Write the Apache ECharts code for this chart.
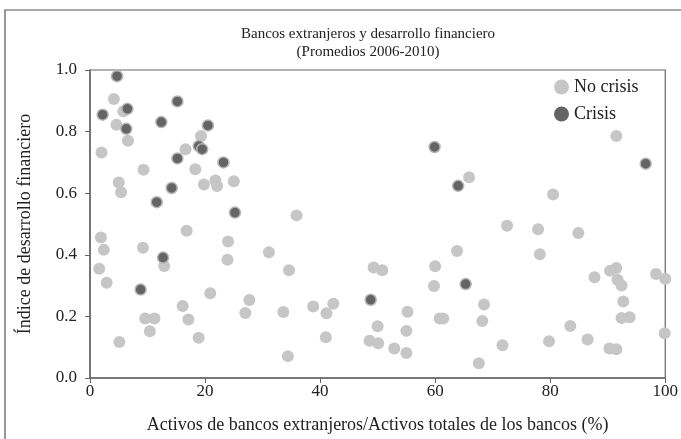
<!DOCTYPE html>
<html>
<head>
<meta charset="utf-8">
<script src="https://cdn.jsdelivr.net/npm/echarts@6/dist/echarts.min.js"></script>
<style>
  html, body { margin: 0; padding: 0; background: #fff; }
  #chart { width: 681px; height: 439px; }
</style>
</head>
<body>
<div id="chart"></div>
<script>
// Data
const noCrisisX = [4.15, 5.8, 4.6, 19.3, 6.6, 2.0, 16.6, 18.3, 9.3, 5.0, 5.4, 19.8, 21.8, 22.1, 25.0,
  16.8, 1.9, 2.4, 1.6, 2.9, 9.2, 12.9, 24.0, 23.9, 31.1, 20.9, 27.7, 27.0, 16.1, 9.6, 11.2, 17.1,
  10.4, 18.9, 5.1, 35.9, 34.6, 33.6, 34.4, 38.8, 41.1, 42.3, 41.0, 49.3, 50.8, 50.0, 48.6, 50.1,
  52.9, 55.0, 55.2, 55.0, 60.0, 59.8, 63.8, 60.8, 61.4, 65.9, 72.5, 77.9, 84.9, 78.2, 90.4, 91.5,
  87.7, 91.7, 92.4, 98.4, 100, 92.7, 92.4, 93.8, 99.9, 68.5, 68.2, 67.6, 71.7, 79.8, 83.5, 86.5,
  90.3, 91.5, 91.5, 80.5]
const noCrisisY = [0.906, 0.866, 0.822, 0.786, 0.770, 0.732, 0.743, 0.678, 0.676, 0.635, 0.603, 0.628, 0.641, 0.623, 0.639,
  0.478, 0.456, 0.416, 0.355, 0.309, 0.423, 0.364, 0.443, 0.384, 0.408, 0.275, 0.253, 0.211, 0.234, 0.193, 0.193, 0.190,
  0.152, 0.131, 0.117, 0.528, 0.350, 0.214, 0.071, 0.232, 0.210, 0.241, 0.132, 0.359, 0.350, 0.168, 0.121, 0.113,
  0.096, 0.081, 0.215, 0.153, 0.363, 0.299, 0.412, 0.193, 0.193, 0.652, 0.494, 0.483, 0.471, 0.402, 0.348, 0.357,
  0.327, 0.319, 0.300, 0.338, 0.322, 0.248, 0.195, 0.197, 0.145, 0.239, 0.185, 0.048, 0.106, 0.119, 0.169, 0.125,
  0.096, 0.093, 0.786, 0.596]

const crisisX = [4.7, 2.2, 6.5, 15.2, 6.3, 12.4, 20.5, 18.9, 19.5, 15.2, 23.2, 14.2, 11.6, 25.2, 12.7,
  8.8, 59.9, 64.0, 48.8, 65.3, 96.6]
const crisisY = [0.980, 0.855, 0.874, 0.898, 0.809, 0.831, 0.820, 0.753, 0.743, 0.713, 0.700, 0.617, 0.571, 0.537, 0.391,
  0.287, 0.750, 0.624, 0.254, 0.305, 0.696]

const xTicks = [0, 20, 40, 60, 80, 100]
const yTicks = ['0.0', '0.2', '0.4', '0.6', '0.8', '1.0']

const serif = '"Liberation Serif", "DejaVu Serif", serif'
const axisColor = '#666'
const textColor = '#222'

const chart = echarts.init(document.getElementById('chart'))

chart.setOption({
  animation: false,
  textStyle: { fontFamily: serif },
  title: {
    text: 'Bancos extranjeros y desarrollo financiero\n(Promedios 2006-2010)',
    left: 363,
    top: 20,
    textAlign: 'center',
    textStyle: { fontFamily: serif, fontSize: 15, fontWeight: 'normal', color: textColor, lineHeight: 18 }
  },
  legend: {
    orient: 'vertical',
    left: 549,
    top: 73,
    itemWidth: 15,
    itemHeight: 15,
    itemGap: 9,
    icon: 'circle',
    textStyle: { fontFamily: serif, fontSize: 18, color: textColor },
    itemStyle: { borderWidth: 0 },
    data: ['No crisis', 'Crisis']
  },
  graphic: [{
    type: 'rect',
    shape: { x: 5, y: 10, width: 720, height: 480 },
    style: { fill: 'none', stroke: '#555', lineWidth: 1.2 },
    silent: true
  }],
  grid: {
    left: 90, right: 13, top: 70, bottom: 58,
    show: true, borderColor: axisColor, borderWidth: 1.2
  },
  xAxis: {
    type: 'value',
    min: 0, max: 100, interval: 20,
    name: 'Activos de bancos extranjeros/Activos totales de los bancos (%)',
    nameLocation: 'middle',
    nameGap: 38,
    nameTextStyle: { fontFamily: serif, fontSize: 18, color: textColor },
    axisLine: { show: true, lineStyle: { color: axisColor, width: 1.5 } },
    axisTick: { show: true, length: 5, lineStyle: { color: axisColor } },
    axisLabel: {
      fontFamily: serif, fontSize: 17, color: textColor, margin: 5,
      formatter: v => xTicks.includes(v) ? String(v) : ''
    },
    splitLine: { show: false }
  },
  yAxis: {
    type: 'value',
    min: 0, max: 1, interval: 0.2,
    name: 'Índice de desarrollo financiero',
    nameLocation: 'middle',
    nameGap: 56,
    nameTextStyle: { fontFamily: serif, fontSize: 18, color: textColor },
    axisLine: { show: true, lineStyle: { color: axisColor, width: 1.5 } },
    axisTick: { show: true, length: 5, lineStyle: { color: axisColor } },
    axisLabel: {
      fontFamily: serif, fontSize: 17, color: textColor, margin: 13,
      formatter: v => yTicks[Math.round(v * 5)]
    },
    splitLine: { show: false }
  },
  series: [
    {
      name: 'No crisis',
      type: 'scatter',
      symbolSize: 12,
      itemStyle: { color: '#c6c6c6', opacity: 1 },
      data: noCrisisX.map((x, i) => [x, noCrisisY[i]])
    },
    {
      name: 'Crisis',
      type: 'scatter',
      symbolSize: 11,
      itemStyle: { color: '#646464', borderColor: '#b5b5b5', borderWidth: 1.5, opacity: 1 },
      data: crisisX.map((x, i) => [x, crisisY[i]])
    }
  ]
})
</script>
</body>
</html>
